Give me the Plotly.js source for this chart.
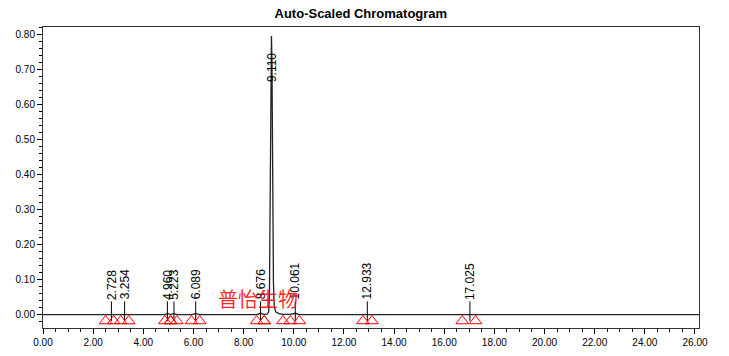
<!DOCTYPE html>
<html>
<head>
<meta charset="utf-8">
<script src="https://cdn.plot.ly/plotly-3.0.1.min.js"></script>
<style>html,body{margin:0;padding:0;background:#fff;}#chart{width:729px;height:356px;}</style>
</head>
<body>
<div id="chart"></div>
<script>
// Chromatogram trace (minutes, AU)
const chromTime = [0, 2.50, 2.728, 2.95, 3.10, 3.254, 3.42, 4.85, 4.96, 5.09, 5.223, 5.35, 5.92, 6.089, 6.25, 8.52, 8.676, 8.82, 8.95, 9.00, 9.03, 9.06, 9.09, 9.11, 9.13, 9.16, 9.19, 9.22, 9.28, 9.40, 9.57, 9.86, 10.061, 10.22, 12.76, 12.933, 13.12, 16.72, 17.025, 17.25, 26.2];
const chromSignal = [0, 0, 0.002, 0, 0, 0.002, 0, 0, 0.003, 0.001, 0.003, 0, 0, 0.003, 0, 0, 0.004, 0.001, 0.002, 0.008, 0.06, 0.32, 0.70, 0.795, 0.72, 0.36, 0.09, 0.025, 0.008, 0.003, 0.001, 0.001, 0.004, 0, 0, 0.002, 0, 0, 0.001, 0, 0];

// Integrated peaks
const peakTimes  = [2.728, 3.254, 4.960, 5.223, 6.089, 8.676, 9.110, 10.061, 12.933, 17.025];
const peakLabels = ["2.728", "3.254", "4.960", "5.223", "6.089", "8.676", "9.110", "10.061", "12.933", "17.025"];
const peakHeights = [0.002, 0.002, 0.003, 0.003, 0.003, 0.004, 0.795, 0.004, 0.002, 0.001];
const peakStart  = [2.50, 3.10, 4.86, 5.10, 5.92, 8.52, 8.82, 9.86, 12.76, 16.72];
const peakEnd    = [2.82, 3.42, 5.08, 5.34, 6.25, 8.82, 9.57, 10.22, 13.12, 17.25];

const markerY = -0.018;
const tickTop = 0.038;

const traces = [];
traces.push({
  x: chromTime, y: chromSignal, type: 'scatter', mode: 'lines',
  line: {color: '#222', width: 1.3}, hoverinfo: 'skip', showlegend: false
});

// label tick lines
const tx = [], ty = [];
peakTimes.forEach((t, i) => {
  if (peakHeights[i] < 0.1) { tx.push(t, t, null); ty.push(markerY, tickTop, null); }
});
traces.push({x: tx, y: ty, type: 'scatter', mode: 'lines', line: {color: '#000', width: 1}, showlegend: false, hoverinfo: 'skip'});

// start/end triangles
const mx = [], my = [];
peakTimes.forEach((t, i) => { mx.push(peakStart[i], peakEnd[i]); my.push(markerY, markerY); });
traces.push({x: mx, y: my, type: 'scatter', mode: 'markers',
  marker: {symbol: 'triangle-up-open', size: 11, color: '#ff0000', line: {color: '#ff0000', width: 1}},
  showlegend: false, hoverinfo: 'skip'});

const annotations = peakTimes.map((t, i) => {
  const big = peakHeights[i] > 0.1;
  return {
    x: t, y: big ? peakHeights[i] - 0.09 : tickTop + 0.002,
    xref: 'x', yref: 'y', text: peakLabels[i], showarrow: false,
    textangle: -90, xanchor: 'center', yanchor: big ? 'middle' : 'bottom',
    borderpad: 0,
    font: {family: 'Liberation Sans, Arial, sans-serif', size: 12, color: '#000'}
  };
});
annotations.push({
  x: 0.328, y: 0.097, xref: 'paper', yref: 'paper', text: '普怡生物', showarrow: false,
  xanchor: 'center', yanchor: 'middle',
  font: {family: 'Noto Sans CJK SC, sans-serif', size: 20, color: 'rgba(255,0,0,0.85)'}
});

const layout = {
  width: 729, height: 356,
  margin: {l: 43, r: 30, t: 27, b: 28, pad: 0},
  paper_bgcolor: '#fff', plot_bgcolor: '#fff',
  title: {text: '<b>Auto-Scaled Chromatogram</b>', x: 0.495, xref: 'container', xanchor: 'center',
          y: 0.963, yref: 'container', yanchor: 'middle',
          font: {family: 'Liberation Sans, Arial, sans-serif', size: 13, color: '#000'}},
  xaxis: {
    range: [0, 26.16], dtick: 2, tick0: 0, tickformat: '.2f',
    ticks: 'outside', ticklen: 5, tickcolor: '#000', tickwidth: 1,
    minor: {dtick: 0.5, ticks: 'outside', ticklen: 3, tickcolor: '#000', showgrid: false},
    showgrid: false, zeroline: false, showline: true, linecolor: '#333', linewidth: 1, mirror: true,
    tickfont: {family: 'Liberation Sans, Arial, sans-serif', size: 10, color: '#000'}
  },
  yaxis: {
    range: [-0.038, 0.821], dtick: 0.1, tick0: 0, tickformat: '.2f',
    ticks: 'outside', ticklen: 5, tickcolor: '#000', tickwidth: 1,
    minor: {dtick: 0.02, ticks: 'outside', ticklen: 3, tickcolor: '#000', showgrid: false},
    showgrid: false, zeroline: false, showline: true, linecolor: '#333', linewidth: 1, mirror: true,
    tickfont: {family: 'Liberation Sans, Arial, sans-serif', size: 10, color: '#000'}
  },
  annotations: annotations,
  showlegend: false
};

Plotly.newPlot('chart', traces, layout, {displayModeBar: false, staticPlot: true});
</script>
</body>
</html>
